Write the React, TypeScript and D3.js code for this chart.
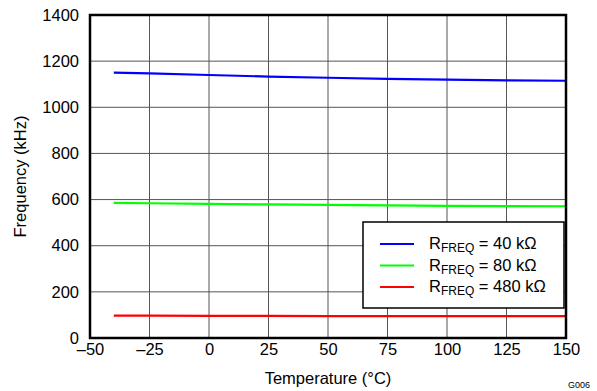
import { useRef, useEffect } from 'react'
import * as d3 from 'd3'

const temps = [-40, -25, 0, 25, 50, 75, 100, 125, 150]
const freq40k = [1150, 1147, 1140, 1133, 1128, 1123, 1120, 1117, 1115]
const freq80k = [586, 584, 581, 579, 577, 575, 573, 572, 571]
const freq480k = [97, 97, 96, 96, 95, 95, 95, 95, 95]

const xTicks = [-50, -25, 0, 25, 50, 75, 100, 125, 150]
const yTicks = [0, 200, 400, 600, 800, 1000, 1200, 1400]

const seriesNames = ['40 kΩ', '80 kΩ', '480 kΩ']
const seriesColors = ['#0000ff', '#00ff00', '#ff0000']

const App = () => {
  const svgRef = useRef<SVGSVGElement>(null)

  useEffect(() => {
    const svg = d3.select(svgRef.current)
    svg.selectAll('*').remove()

    const margin = { top: 15, right: 31, bottom: 53, left: 90 }
    const width = 597
    const height = 391
    const innerWidth = width - margin.left - margin.right
    const innerHeight = height - margin.top - margin.bottom
    const font = 'Liberation Sans, Arial, sans-serif'
    const fs = 16.5

    const g = svg
      .append('g')
      .attr('transform', `translate(${margin.left},${margin.top})`)

    const x = d3.scaleLinear().domain([-50, 150]).range([0, innerWidth])
    const y = d3.scaleLinear().domain([0, 1400]).range([innerHeight, 0])

    // grid
    g.append('g')
      .selectAll('line')
      .data(xTicks)
      .join('line')
      .attr('x1', (d) => x(d))
      .attr('x2', (d) => x(d))
      .attr('y1', 0)
      .attr('y2', innerHeight)
      .attr('stroke', '#555')
      .attr('stroke-width', 1)

    g.append('g')
      .selectAll('line')
      .data(yTicks)
      .join('line')
      .attr('x1', 0)
      .attr('x2', innerWidth)
      .attr('y1', (d) => y(d))
      .attr('y2', (d) => y(d))
      .attr('stroke', '#555')
      .attr('stroke-width', 1)

    const xAxis = d3
      .axisBottom(x)
      .tickValues(xTicks)
      .tickSize(0)
      .tickPadding(5)
      .tickFormat((d) => String(d).replace('-', '\u2013'))
    const xAxisGroup = g
      .append('g')
      .attr('transform', `translate(0,${innerHeight})`)
      .call(xAxis)

    const yAxis = d3
      .axisLeft(y)
      .tickValues(yTicks)
      .tickSize(0)
      .tickPadding(11)
      .tickFormat((d) => String(d))
    const yAxisGroup = g.append('g').call(yAxis)

    g.selectAll('.domain').remove()
    ;[xAxisGroup, yAxisGroup].forEach((ax) =>
      ax
        .selectAll('text')
        .attr('font-family', font)
        .attr('font-size', fs)
        .attr('fill', '#000')
    )

    // lines
    const line = d3
      .line<number>()
      .x((_, i) => x(temps[i]))
      .y((d) => y(d))

    ;[freq40k, freq80k, freq480k].forEach((s, i) => {
      g.append('path')
        .attr('d', line(s))
        .attr('fill', 'none')
        .attr('stroke', seriesColors[i])
        .attr('stroke-width', 2.2)
    })

    // border
    g.append('rect')
      .attr('x', 0)
      .attr('y', 0)
      .attr('width', innerWidth)
      .attr('height', innerHeight)
      .attr('fill', 'none')
      .attr('stroke', '#000')
      .attr('stroke-width', 2.5)

    // legend
    const legend = g.append('g').attr('transform', `translate(${363 - margin.left},${222 - margin.top})`)
    legend
      .append('rect')
      .attr('width', 201)
      .attr('height', 86)
      .attr('fill', '#fff')
      .attr('stroke', '#000')
      .attr('stroke-width', 1.5)

    seriesNames.forEach((name, i) => {
      const row = legend.append('g').attr('transform', `translate(0,${22 + i * 21.5})`)
      row
        .append('line')
        .attr('x1', 17)
        .attr('x2', 51)
        .attr('y1', 0)
        .attr('y2', 0)
        .attr('stroke', seriesColors[i])
        .attr('stroke-width', 2.2)
      const t = row
        .append('text')
        .attr('x', 66)
        .attr('y', 5)
        .attr('font-family', font)
        .attr('font-size', fs)
        .attr('fill', '#000')
      t.append('tspan').text('R')
      t.append('tspan').attr('font-size', 12).attr('dy', 3).text('FREQ')
      t.append('tspan').attr('dy', -3).text(` = ${name}`)
    })

    // axis titles
    svg
      .append('text')
      .attr('x', margin.left + innerWidth / 2)
      .attr('y', 384)
      .attr('text-anchor', 'middle')
      .attr('font-family', font)
      .attr('font-size', fs)
      .text('Temperature (°C)')

    svg
      .append('text')
      .attr('transform', `translate(26,${margin.top + innerHeight / 2}) rotate(-90)`)
      .attr('text-anchor', 'middle')
      .attr('font-family', font)
      .attr('font-size', fs)
      .text('Frequency (kHz)')

    svg
      .append('text')
      .attr('x', 590)
      .attr('y', 388)
      .attr('text-anchor', 'end')
      .attr('font-family', font)
      .attr('font-size', 9)
      .text('G006')
  }, [])

  return (
    <svg
      ref={svgRef}
      width={597}
      height={391}
      style={{ position: 'absolute', left: 0, top: 0, background: '#fff' }}
    ></svg>
  )
}

export default App
